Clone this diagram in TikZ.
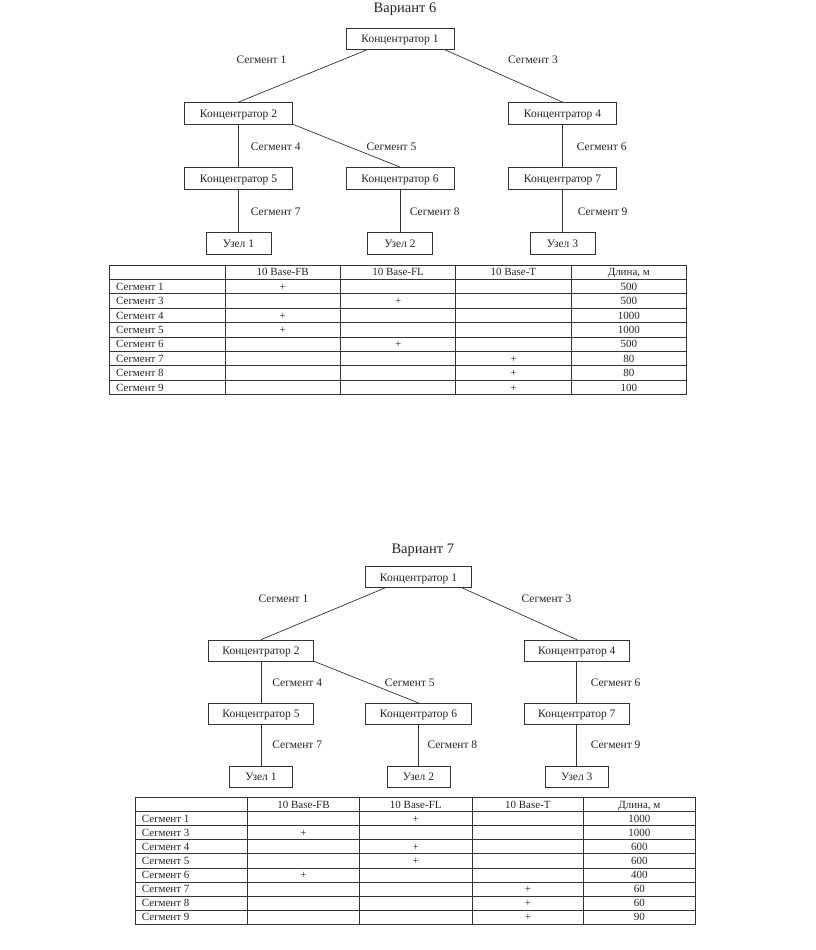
\documentclass[tikz,border=0pt]{standalone}
\usepackage{fontspec}
\setmainfont{Liberation Serif}
\begin{document}
\begin{tikzpicture}[x=1pt,y=-1pt,
  txt/.style={font=\fontsize{11.5}{13}\selectfont, text=black!85, inner sep=0pt, text height=7.6pt, text depth=0pt},
  box/.style={txt, draw=black!80, line width=0.7pt, minimum height=21.5pt},
  hub/.style={box, minimum width=108pt},
  leaf/.style={box, minimum width=65pt},
  hubs/.style={box, minimum width=105.5pt, minimum height=21pt},
  leafs/.style={box, minimum width=63pt, minimum height=21pt},
  lbl/.style={txt},
  link/.style={draw=black!80, line width=0.7pt},
  ttl/.style={font=\fontsize{14.5}{16}\selectfont, text=black!85, inner sep=0pt, anchor=base},
  tbl/.style={draw=black!80, line width=0.7pt},
  cell/.style={txt, font=\fontsize{11}{12}\selectfont, text height=7.3pt}
]
\useasboundingbox[fill=white] (0,0) rectangle (816,950);

% ================= Variant 6 =================
\node[ttl] (t6) at (405,12.5) {Вариант 6};
\node[hub]  (a1) at (400,38.7)   {Концентратор 1};
\node[hub]  (a2) at (238.5,113.2) {Концентратор 2};
\node[hub]  (a4) at (562.5,113.2) {Концентратор 4};
\node[hub]  (a5) at (238.5,178.2) {Концентратор 5};
\node[hub]  (a6) at (400,178.2)   {Концентратор 6};
\node[hub]  (a7) at (562.5,178.2) {Концентратор 7};
\node[leaf] (u1) at (238.5,243.2) {Узел 1};
\node[leaf] (u2) at (400,243.2)   {Узел 2};
\node[leaf] (u3) at (562.5,243.2) {Узел 3};

\draw[link] ([xshift=-33pt]a1.south) -- (a2.north);
\draw[link] ([xshift=45pt]a1.south) -- (a4.north);
\draw[link] (a2.south) -- (a5.north);
\draw[link] (a2.south east) -- (a6.north);
\draw[link] (a4.south) -- (a7.north);
\draw[link] (a5.south) -- (u1.north);
\draw[link] (a6.south) -- (u2.north);
\draw[link] (a7.south) -- (u3.north);

\node[lbl] (s61) at (261.5,60) {Сегмент 1};
\node[lbl] (s63) at (533,60) {Сегмент 3};
\node[lbl,anchor=west] (s64) at (250.7,147) {Сегмент 4};
\node[lbl] (s65) at (391.5,147) {Сегмент 5};
\node[lbl,anchor=west] (s66) at (576.7,147) {Сегмент 6};
\node[lbl,anchor=west] (s67) at (250.7,212) {Сегмент 7};
\node[lbl,anchor=west] (s68) at (409.7,212) {Сегмент 8};
\node[lbl,anchor=west] (s69) at (577.6,212) {Сегмент 9};

% table 6
\draw[tbl] (109.5,265) rectangle (686.7,394.6);
\foreach \x in {225,340.4,455.8,571} \draw[tbl] (\x,265) -- (\x,394.6);
\foreach \i in {1,...,8} \draw[tbl] (109.5,{265+\i*14.4}) -- (686.7,{265+\i*14.4});
\node[cell] (h61) at (282.7,272.2) {10 Base-FB};
\node[cell] (h62) at (398.1,272.2) {10 Base-FL};
\node[cell] (h63) at (513.4,272.2) {10 Base-T};
\node[cell] (h64) at (628.8,272.2) {Длина, м};
\foreach \n/\c/\v [count=\i] in {1/1/500,3/2/500,4/1/1000,5/1/1000,6/2/500,7/3/80,8/3/80,9/3/100}{
  \node[cell,anchor=west] (r6n\i) at (116,{272.2+\i*14.4}) {Сегмент \n};
  \node[cell] (r6p\i) at ({282.7+(\c-1)*115.4},{272.2+\i*14.4}) {+};
  \node[cell] (r6v\i) at (628.8,{272.2+\i*14.4}) {\v};
}

% ================= Variant 7 =================
\node[ttl] (t7) at (422.8,553.5) {Вариант 7};
\node[hubs]  (b1) at (418.5,577.2) {Концентратор 1};
\node[hubs]  (b2) at (261,650.5)   {Концентратор 2};
\node[hubs]  (b4) at (576.8,650.5) {Концентратор 4};
\node[hubs]  (b5) at (261,713.8)   {Концентратор 5};
\node[hubs]  (b6) at (418.5,713.8) {Концентратор 6};
\node[hubs]  (b7) at (576.8,713.8) {Концентратор 7};
\node[leafs] (v1) at (261,777)     {Узел 1};
\node[leafs] (v2) at (418.5,777)   {Узел 2};
\node[leafs] (v3) at (576.8,777)   {Узел 3};

\draw[link] ([xshift=-33.8pt]b1.south) -- (b2.north);
\draw[link] ([xshift=44pt]b1.south) -- (b4.north);
\draw[link] (b2.south) -- (b5.north);
\draw[link] (b2.south east) -- (b6.north);
\draw[link] (b4.south) -- (b7.north);
\draw[link] (b5.south) -- (v1.north);
\draw[link] (b6.south) -- (v2.north);
\draw[link] (b7.south) -- (v3.north);

\node[lbl] (s71) at (283.5,599) {Сегмент 1};
\node[lbl] (s73) at (546.5,599) {Сегмент 3};
\node[lbl,anchor=west] (s74) at (272.2,682.7) {Сегмент 4};
\node[lbl] (s75) at (409.8,682.7) {Сегмент 5};
\node[lbl,anchor=west] (s76) at (590.6,682.7) {Сегмент 6};
\node[lbl,anchor=west] (s77) at (272.2,745) {Сегмент 7};
\node[lbl,anchor=west] (s78) at (427.3,745) {Сегмент 8};
\node[lbl,anchor=west] (s79) at (590.6,745) {Сегмент 9};

% table 7
\draw[tbl] (135.7,797.7) rectangle (695,924);
\foreach \x in {247.3,359.6,471.9,583.8} \draw[tbl] (\x,797.7) -- (\x,924);
\foreach \i in {1,...,8} \draw[tbl] (135.7,{797.7+\i*14.03}) -- (695,{797.7+\i*14.03});
\node[cell] (h71) at (303.5,804.7) {10 Base-FB};
\node[cell] (h72) at (415.8,804.7) {10 Base-FL};
\node[cell] (h73) at (527.9,804.7) {10 Base-T};
\node[cell] (h74) at (639.4,804.7) {Длина, м};
\foreach \n/\c/\v [count=\i] in {1/2/1000,3/1/1000,4/2/600,5/2/600,6/1/400,7/3/60,8/3/60,9/3/90}{
  \node[cell,anchor=west] (r7n\i) at (141.7,{804.7+\i*14.03}) {Сегмент \n};
  \node[cell] (r7p\i) at ({303.5+(\c-1)*112.2},{804.7+\i*14.03}) {+};
  \node[cell] (r7v\i) at (639.4,{804.7+\i*14.03}) {\v};
}
\end{tikzpicture}
\end{document}
